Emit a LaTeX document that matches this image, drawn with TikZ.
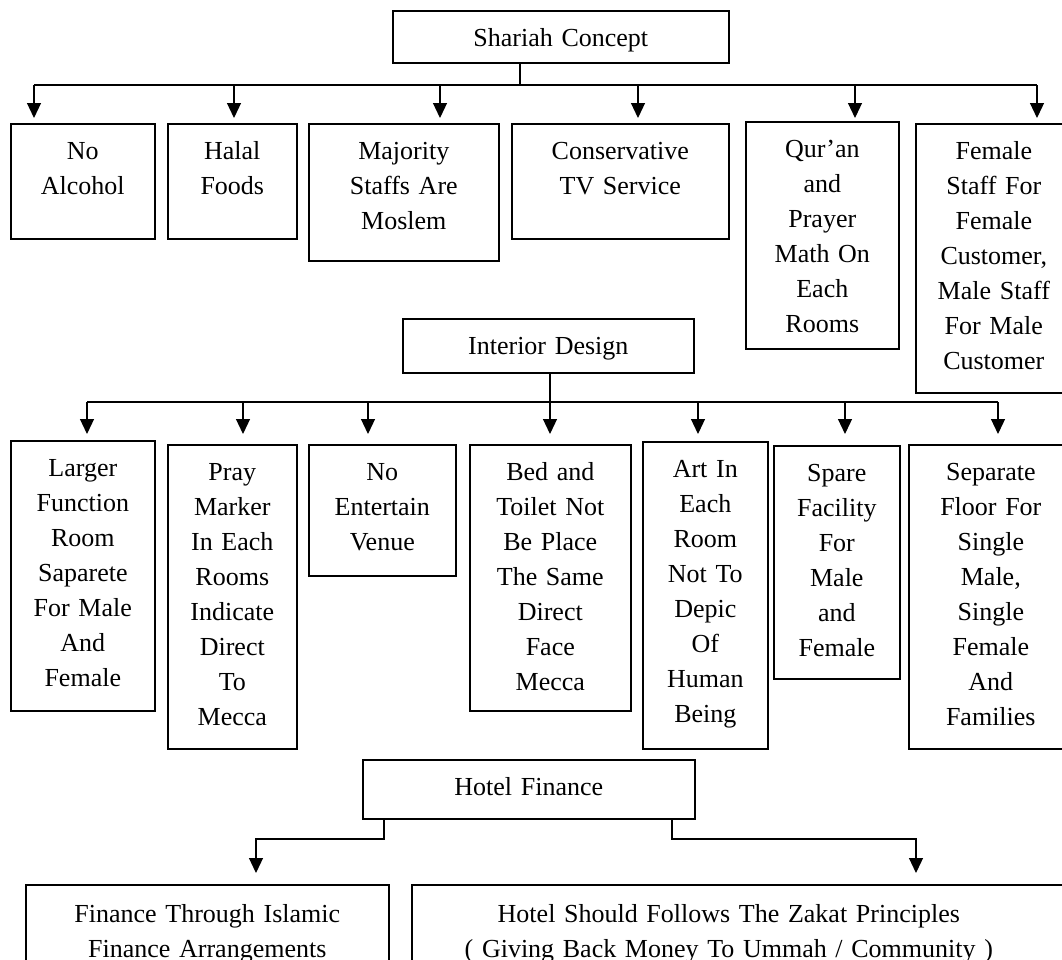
\documentclass[tikz,border=0pt]{standalone}
\usepackage{fontspec}
\setmainfont{Liberation Serif}
\usetikzlibrary{arrows.meta}
\tikzstyle{item} = [
    rectangle, draw, line width=1.6pt,
    inner sep=0pt, text height=36pt, % first baseline sits 36pt below the top edge
    align=center, anchor=north west
]
\tikzstyle{conn} = [line width=1.2pt]
\tikzstyle{arrow} = [conn, -{Triangle[length=15pt, width=14pt]}]

\begin{document}
\begin{tikzpicture}[x=1pt, y=-1pt, font=\fontsize{26}{35}\selectfont]
        \clip (0,0) rectangle (1062,959);

        % Shariah Concept
        \node[item, text width=336pt, text depth=16pt] (sc) at (392,10) {Shariah Concept};

        \node[item, text width=144pt, text depth=79pt] (alc) at (10,123) {No\\Alcohol};
        \node[item, text width=129pt, text depth=79pt] (halal) at (167,123) {Halal\\Foods};
        \node[item, text width=190pt, text depth=101pt] (major) at (308,123) {Majority\\Staffs Are\\Moslem};
        \node[item, text width=217pt, text depth=79pt] (cons) at (511,123) {Conservative\\TV Service};
        \node[item, text width=153pt, text depth=191pt] (quran) at (745,121) {Qur’an\\and\\Prayer\\Math On\\Each\\Rooms};
        \node[item, text width=156pt, text depth=233pt] (female) at (915,123) {Female\\Staff For\\Female\\Customer,\\Male Staff\\For Male\\Customer};

        % Interior Design
        \node[item, text width=291pt, text depth=18pt] (interior) at (402,318) {Interior Design};

        \node[item, text width=144pt, text depth=234pt] (larger) at (10,440) {Larger\\Function\\Room\\Saparete\\For Male\\And\\Female};
        \node[item, text width=129pt, text depth=268pt] (pray) at (167,444) {Pray\\Marker\\In Each\\Rooms\\Indicate\\Direct\\To\\Mecca};
        \node[item, text width=147pt, text depth=95pt] (noent) at (308,444) {No\\Entertain\\Venue};
        \node[item, text width=161pt, text depth=230pt] (bed) at (469,444) {Bed and\\Toilet Not\\Be Place\\The Same\\Direct\\Face\\Mecca};
        \node[item, text width=125pt, text depth=271pt] (art) at (642,441) {Art In\\Each\\Room\\Not To\\Depic\\Of\\Human\\Being};
        \node[item, text width=126pt, text depth=197pt] (spare) at (773,445) {Spare\\Facility\\For\\Male\\and\\Female};
        \node[item, text width=164pt, text depth=268pt] (separate) at (908,444) {Separate\\Floor For\\Single\\Male,\\Single\\Female\\And\\Families};

        % Hotel Finance
        \node[item, text width=332pt, text depth=23pt] (finance) at (362,759) {Hotel Finance};

        \node[item, text width=363pt, text height=38pt, text depth=78pt] (islamic) at (25,884) {Finance Through Islamic\\Finance Arrangements};
        \node[item, text width=680pt, text height=38pt, text depth=78pt] (zakat) at (411,884) {\hspace*{-46pt}Hotel Should Follows The Zakat Principles\\\hspace*{-46pt}( Giving Back Money To Ummah / Community )};

        % Connectors, first level
        \coordinate (busA) at (520,85);
        \coordinate (a1) at (34,85);
        \coordinate (a2) at (234,85);
        \coordinate (a3) at (440,85);
        \coordinate (a4) at (638,85);
        \coordinate (a5) at (855,85);
        \coordinate (a6) at (1037,85);
        \draw[conn] (sc.south -| busA) -- (busA);
        \draw[conn] (a1) -- (a6);
        \foreach \a/\nd/\s in {a1/alc/5, a2/halal/5, a3/major/5, a4/cons/5, a5/quran/3, a6/female/5}
            \draw[arrow, shorten >=\s pt] (\a) -- (\a |- \nd.north);

        % Connectors, second level
        \coordinate (busB) at (550,402);
        \coordinate (b1) at (87,402);
        \coordinate (b2) at (243,402);
        \coordinate (b3) at (368,402);
        \coordinate (b4) at (550,402);
        \coordinate (b5) at (698,402);
        \coordinate (b6) at (845,402);
        \coordinate (b7) at (998,402);
        \draw[conn] (interior.south -| busB) -- (busB);
        \draw[conn] (b1) -- (b7);
        \foreach \a/\nd/\s in {b1/larger/6, b2/pray/10, b3/noent/10, b4/bed/10, b5/art/7, b6/spare/11, b7/separate/10}
            \draw[arrow, shorten >=\s pt] (\a) -- (\a |- \nd.north);

        % Connectors, finance
        \coordinate (hl) at (384,819);
        \coordinate (hr) at (672,819);
        \coordinate (c1) at (256,839);
        \coordinate (c2) at (916,839);
        \draw[arrow, shorten >=11pt] (hr) -- (hl) -- (hl |- c1) -- (c1) -- (c1 |- islamic.north);
        \draw[arrow, shorten >=11pt] (hr) -- (hr |- c2) -- (c2) -- (c2 |- zakat.north);

\end{tikzpicture}
\end{document}
